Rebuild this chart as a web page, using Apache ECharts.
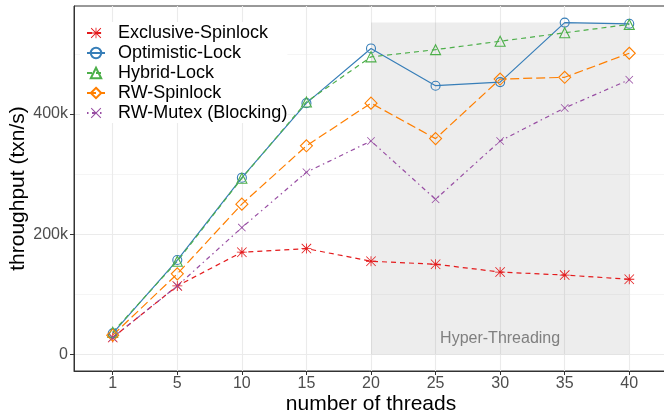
<!DOCTYPE html>
<html>
<head>
<meta charset="utf-8">
<script src="https://cdn.jsdelivr.net/npm/echarts@6/dist/echarts.min.js"></script>
<style>
  html, body { margin: 0; padding: 0; background: #fff; }
  #main { width: 664px; height: 419px; }
</style>
</head>
<body>
<div id="main"></div>
<script>
// x 轴：线程数（按类别等距排列）
var threads = ['1', '5', '10', '15', '20', '25', '30', '35', '40']
// 各锁的吞吐量 (txn/s)
var exclusiveSpinlock = [28000, 114000, 170000, 176000, 155000, 150000, 137000, 132000, 125000]
var optimisticLock = [35000, 157000, 294000, 418000, 509000, 447000, 453000, 552000, 550000]
var hybridLock = [37000, 155000, 293000, 420000, 495000, 507000, 521000, 535000, 549000]
var rwSpinlock = [32000, 134000, 250000, 347000, 418000, 359000, 458000, 461000, 501000]
var rwMutex = [28000, 114000, 211000, 303000, 355000, 258000, 355000, 410000, 457000]
// y 轴刻度
var yTicks = [0, 200000, 400000]
var yMinorTicks = [100000, 300000, 500000]
// Hyper-Threading 区域
var htStart = '20'
var htEnd = '40'
var htTop = 552000

var font = 'Liberation Sans, Arial, Helvetica, sans-serif'

// 星号 / 叉号 符号
var asterisk = 'path://M9.2 0L10.8 0L10.8 20L9.2 20Z M0 9.2L20 9.2L20 10.8L0 10.8Z M0 1.13L1.13 0L20 18.87L18.87 20Z M18.87 0L20 1.13L1.13 20L0 18.87Z'
var cross = 'path://M0 1.4L1.4 0L20 18.6L18.6 20Z M18.6 0L20 1.4L1.4 20L0 18.6Z'

function pairs(arr) {
  return arr.map(function (v, i) { return [i, v] })
}

function makeSeries(name, values, color, symbol, size, dash, open) {
  return {
    name: name,
    type: 'line',
    data: pairs(values),
    symbol: symbol,
    symbolSize: size,
    z: 3,
    lineStyle: { color: color, width: 1.2, type: dash },
    itemStyle: open
      ? { color: 'transparent', borderColor: color, borderWidth: 1.1 }
      : { color: color, borderWidth: 0 },
    emphasis: { disabled: true }
  }
}

var myChart = echarts.init(document.getElementById('main'))

var options = {
  backgroundColor: '#fff',
  animation: false,
  textStyle: { fontFamily: font },
  grid: {
    left: 74,
    right: -4,
    top: 6,
    bottom: 48,
    outerBoundsMode: 'none',
    show: true,
    borderColor: '#333',
    borderWidth: 1,
    backgroundColor: 'transparent'
  },
  legend: {
    data: ['Exclusive-Spinlock', 'Optimistic-Lock', 'Hybrid-Lock', 'RW-Spinlock', 'RW-Mutex (Blocking)'],
    orient: 'vertical',
    left: 80,
    top: 22,
    padding: [1, 0, 0, 6],
    backgroundColor: '#fff',
    itemWidth: 18,
    itemHeight: 13,
    itemGap: 0,
    textStyle: { fontSize: 18, lineHeight: 20, color: '#000', fontFamily: font, padding: [0, 0, 0, 8] }
  },
  xAxis: {
    type: 'value',
    min: -0.6,
    max: 8.6,
    name: 'number of threads',
    nameLocation: 'middle',
    nameGap: 23,
    nameMoveOverlap: false,
    nameTextStyle: { fontSize: 21, color: '#000', fontFamily: font },
    axisLine: { show: true, onZero: false, lineStyle: { color: '#333', width: 1 } },
    axisTick: { show: true, length: 4, customValues: [0, 1, 2, 3, 4, 5, 6, 7, 8], lineStyle: { color: '#333' } },
    axisLabel: {
      customValues: [0, 1, 2, 3, 4, 5, 6, 7, 8],
      formatter: function (v) { return threads[Math.round(v)] },
      fontSize: 16,
      color: '#4D4D4D',
      margin: 5,
      fontFamily: font
    },
    splitLine: { show: true, lineStyle: { color: '#EBEBEB', width: 1.1 } }
  },
  yAxis: [
    {
      type: 'value',
      min: -27600,
      max: 579600,
      name: 'throughput (txn/s)',
      nameLocation: 'middle',
      nameGap: 45,
      nameMoveOverlap: false,
      nameTextStyle: { fontSize: 21, color: '#000', fontFamily: font },
      axisLine: { show: true, onZero: false, lineStyle: { color: '#333', width: 1 } },
      axisTick: { show: true, length: 4, customValues: yTicks, lineStyle: { color: '#333' } },
      axisLabel: {
        customValues: yTicks,
        formatter: function (v) { return v === 0 ? '0' : (v / 1000) + 'k' },
        fontSize: 16,
        color: '#4D4D4D',
        margin: 6,
        fontFamily: font
      },
      splitLine: { show: true, lineStyle: { color: '#EBEBEB', width: 1.1 } }
    },
    {
      type: 'value',
      min: -27600,
      max: 579600,
      position: 'right',
      axisLine: { show: false },
      axisTick: { show: false, customValues: yMinorTicks },
      axisLabel: { show: false, customValues: yMinorTicks },
      splitLine: { show: true, lineStyle: { color: '#F2F2F2', width: 0.8 } }
    }
  ],
  series: [
    {
      name: 'ht',
      type: 'line',
      data: [],
      z: 1,
      markArea: {
        silent: true,
        itemStyle: { color: 'rgba(128,128,128,0.14)' },
        label: {
          show: true,
          position: 'insideBottom',
          distance: 8,
          color: '#7F7F7F',
          fontSize: 16,
          fontFamily: font
        },
        data: [[
          { name: 'Hyper-Threading', xAxis: threads.indexOf(htStart), yAxis: 0 },
          { xAxis: threads.indexOf(htEnd), yAxis: htTop }
        ]]
      }
    },
    makeSeries('Exclusive-Spinlock', exclusiveSpinlock, '#E41A1C', asterisk, 10, [5, 4], false),
    makeSeries('Optimistic-Lock', optimisticLock, '#377EB8', 'circle', 9, 'solid', true),
    makeSeries('Hybrid-Lock', hybridLock, '#4DAF4A', 'triangle', 10, [5, 4], true),
    makeSeries('RW-Spinlock', rwSpinlock, '#FF7F00', 'diamond', 12, [9, 4], true),
    makeSeries('RW-Mutex (Blocking)', rwMutex, '#984EA3', cross, 8, [1.5, 3.5, 4.5, 3.5], false)
  ]
}

myChart.setOption(options)
</script>
</body>
</html>
